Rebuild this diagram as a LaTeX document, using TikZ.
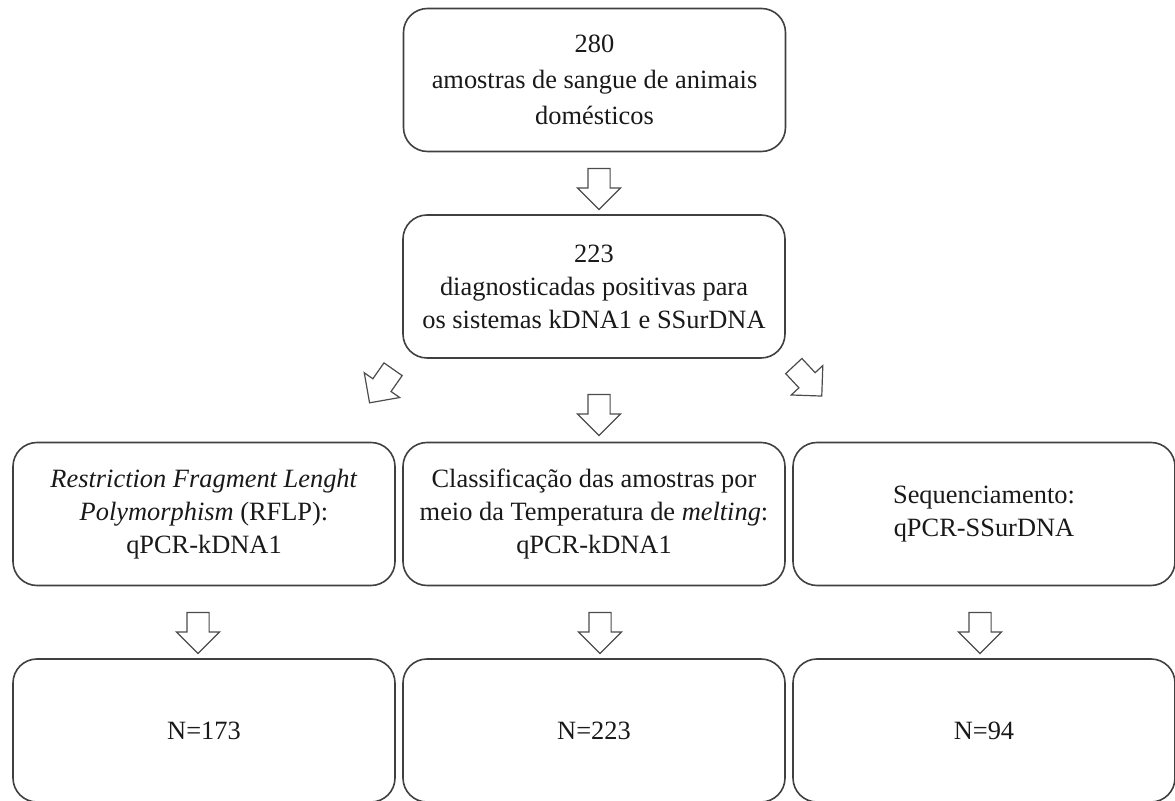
\documentclass[tikz,border=0pt]{standalone}
\usepackage{fontspec}
\setmainfont{Liberation Serif}
\usetikzlibrary{shapes.arrows}
\begin{document}
\begin{tikzpicture}[x=0.5pt,y=-0.5pt]
	\tikzstyle{box}=[draw=black!75,line width=0.8pt,rounded corners=12pt,minimum width=191pt,minimum height=71.5pt,align=center,text=black!90,font=\fontsize{13.2}{16.5}\selectfont]
	\tikzstyle{blk}=[single arrow,draw=black!70,line width=0.6pt,fill=white,minimum height=20.5pt,inner sep=0pt,inner ysep=5.25pt,single arrow head extend=5.25pt]
	
	\useasboundingbox (0,0) rectangle (1175,801);
	
	\node [box,font=\fontsize{13.2}{18}\selectfont] (amostras) at (594.5,80) {280\\amostras de sangue de animais\\domésticos};
	\node [box] (positivas) at (594,286.5) {223\\diagnosticadas positivas para\\os sistemas kDNA1 e SSurDNA};
	
	\node [box] (rflp) at (204,514) {\textit{Restriction Fragment Lenght}\\\textit{Polymorphism} (RFLP):\\qPCR-kDNA1};
	\node [box] (melting) at (594,514) {Classificação das amostras por\\meio da Temperatura de \textit{melting}:\\qPCR-kDNA1};
	\node [box] (seq) at (984,514) {Sequenciamento:\\qPCR-SSurDNA};
	
	\node [box] (n1) at (204,730.5) {N=173};
	\node [box] (n2) at (594,730.5) {N=223};
	\node [box] (n3) at (984,730.5) {N=94};
	
	\node [blk,rotate=-90] (a0) at (599,183.5) {};
	\node [blk,rotate=-125] (a1) at (384.5,381.5) {};
	\node [blk,rotate=-90] (a2) at (599,409.5) {};
	\node [blk,rotate=-47] (a3) at (804,377) {};
	\node [blk,rotate=-90] (a4) at (198,627.5) {};
	\node [blk,rotate=-90] (a5) at (600,627.5) {};
	\node [blk,rotate=-90] (a6) at (980,627.5) {};
\end{tikzpicture}
\end{document}
